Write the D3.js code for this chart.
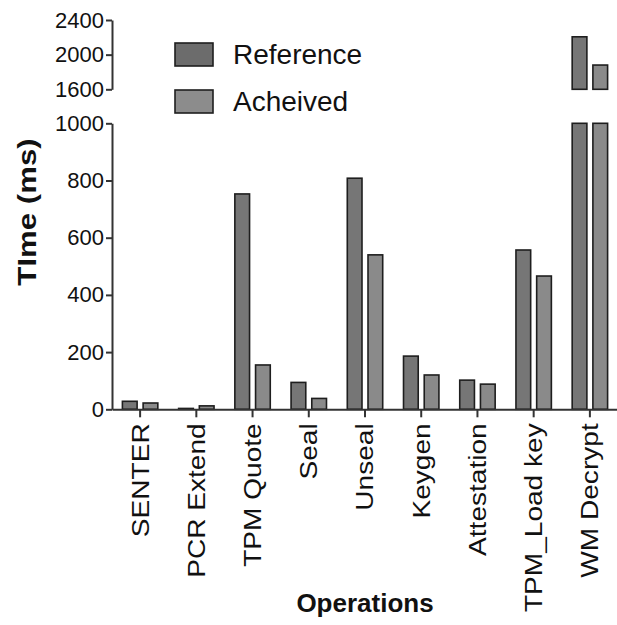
<!DOCTYPE html>
<html>
<head>
<meta charset="utf-8">
<script src="https://cdn.jsdelivr.net/npm/d3@7"></script>
<style>
  body { margin: 0; background: #fff; }
  svg { display: block; font-family: "Liberation Sans", Arial, sans-serif; }
</style>
</head>
<body>
<div id="chart"></div>
<script>
const categories = ["SENTER", "PCR Extend", "TPM Quote", "Seal", "Unseal", "Keygen", "Attestation", "TPM_Load key", "WM Decrypt"];
const seriesNames = ["Reference", "Acheived"];
const reference = [28, 3, 753, 94, 808, 186, 102, 557, 2206];
const achieved = [22, 12, 155, 38, 540, 120, 88, 466, 1880];
const lowTicks = [0, 200, 400, 600, 800, 1000];
const highTicks = [1600, 2000, 2400];

const width = 617, height = 625;
const fills = { "Reference": "#767676", "Acheived": "#8a8a8a" };
const legendFills = { "Reference": "#6c6c6c", "Acheived": "#8c8c8c" };

const svg = d3.select("#chart").append("svg")
    .attr("width", width)
    .attr("height", height);

// broken y axis: two linear pieces
const yLow = d3.scaleLinear().domain([0, 1000]).range([409.3, 123.3]);
const yHigh = d3.scaleLinear().domain([1600, 2400]).range([89.3, 20]);

const x0 = d3.scaleBand().domain(categories).range([112, 618])
    .paddingInner(0.37).paddingOuter(0.185);
const x1 = d3.scaleBand().domain(seriesNames).range([0, x0.bandwidth()])
    .paddingInner(0.29);

const rows = categories.map((c, i) => ({ cat: c, values: [
    { key: "Reference", v: reference[i] },
    { key: "Acheived", v: achieved[i] }
]}));

// build rect pieces, bars above 1000 are split over both segments
const pieces = [];
rows.forEach(r => r.values.forEach(d => {
    const xPos = x0(r.cat) + x1(d.key);
    if (d.v <= 1000) {
        pieces.push({ key: d.key, x: xPos, y0: yLow(0), y1: yLow(d.v) });
    } else {
        pieces.push({ key: d.key, x: xPos, y0: yLow(0), y1: yLow(1000) });
        pieces.push({ key: d.key, x: xPos, y0: yHigh(1600), y1: yHigh(d.v) });
    }
}));

svg.append("g").selectAll("rect.bar")
    .data(pieces)
    .join("rect")
    .classed("bar", true)
    .attr("x", d => d.x)
    .attr("y", d => d.y1)
    .attr("width", x1.bandwidth())
    .attr("height", d => Math.max(0.5, d.y0 - d.y1))
    .attr("fill", d => fills[d.key])
    .attr("stroke", "#1e1e1e")
    .attr("stroke-width", 1.6);

function styleAxis(g) {
    g.selectAll("path, line").attr("stroke", "#333").attr("stroke-width", 2);
    g.selectAll("text").attr("fill", "#111").style("font-family", "\"Liberation Sans\", Arial, sans-serif");
}

// y axis, lower piece
svg.append("g")
    .attr("transform", "translate(112,0)")
    .call(d3.axisLeft(yLow).tickValues(lowTicks).tickFormat(d3.format("d"))
        .tickSize(6).tickSizeOuter(0).tickPadding(2))
    .call(styleAxis)
    .selectAll("text").style("font-size", "22px");

// y axis, upper piece
svg.append("g")
    .attr("transform", "translate(112,0)")
    .call(d3.axisLeft(yHigh).tickValues(highTicks).tickFormat(d3.format("d"))
        .tickSize(6).tickSizeOuter(0).tickPadding(2))
    .call(styleAxis)
    .selectAll("text").style("font-size", "22px");

// x axis
const xAxis = svg.append("g")
    .attr("transform", `translate(0,${yLow(0)})`)
    .call(d3.axisBottom(x0).tickSize(8).tickSizeOuter(0).tickPadding(14))
    .call(styleAxis);

xAxis.selectAll("text")
    .style("font-size", "24px")
    .attr("text-anchor", "end")
    .attr("y", 0)
    .attr("dy", "0.35em")
    .attr("transform", "translate(0,14) rotate(-90) scale(1.17,1)");

// axis titles
svg.append("text")
    .attr("transform", "translate(36,212) rotate(-90) scale(1.2,1)")
    .attr("text-anchor", "middle")
    .style("font-size", "26px")
    .style("font-weight", "bold")
    .attr("fill", "#111")
    .text("TIme (ms)");

svg.append("text")
    .attr("x", 365)
    .attr("y", 612)
    .attr("text-anchor", "middle")
    .style("font-size", "26px")
    .style("font-weight", "bold")
    .attr("fill", "#111")
    .text("Operations");

// legend
const legend = svg.append("g").attr("transform", "translate(175,43)");
const item = legend.selectAll("g")
    .data(seriesNames)
    .join("g")
    .attr("transform", (d, i) => `translate(0,${i * 47})`);

item.append("rect")
    .attr("width", 38)
    .attr("height", 23)
    .attr("fill", d => legendFills[d])
    .attr("stroke", "#1e1e1e")
    .attr("stroke-width", 1.6);

item.append("text")
    .attr("x", 58)
    .attr("y", 21)
    .style("font-size", "28px")
    .attr("fill", "#111")
    .text(d => d);
</script>
</body>
</html>
